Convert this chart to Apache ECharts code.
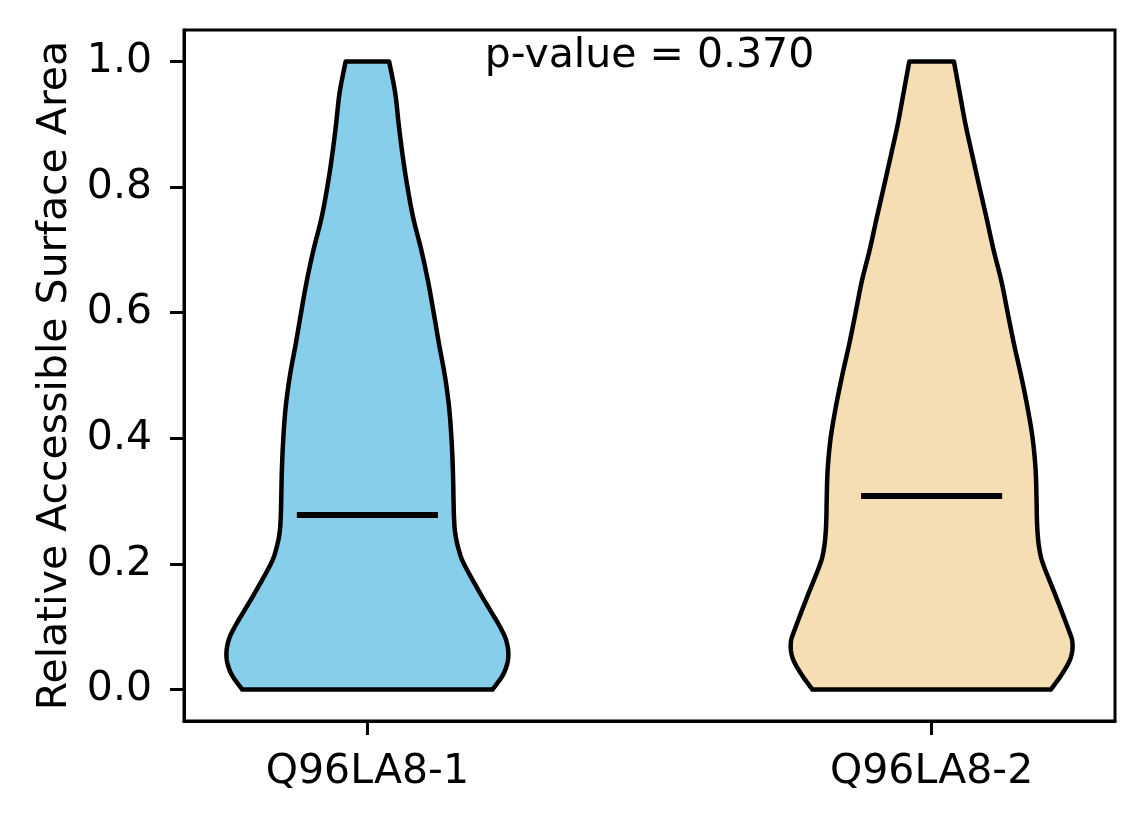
<!DOCTYPE html>
<html>
<head>
<meta charset="utf-8">
<script src="https://cdn.jsdelivr.net/npm/echarts@6/dist/echarts.min.js"></script>
<style>
  html, body { margin: 0; padding: 0; background: #fff; }
  #chart { width: 1144px; height: 824px; }
</style>
</head>
<body>
<div id="chart"></div>
<script>
// violin data
const categories = ['Q96LA8-1', 'Q96LA8-2'];
const positions = [1, 2];
const colors = ['#87CEEB', '#F5DEB3'];
const medians = [0.278, 0.308];
const pValueText = 'p-value = 0.370';
const yTicks = [0, 0.2, 0.4, 0.6, 0.8, 1.0];

// density profile (scaled so max = 1) at each level of the value axis
const levels = [0, 0.025, 0.05, 0.075, 0.1, 0.15, 0.2, 0.225, 0.25, 0.275, 0.3, 0.35, 0.4, 0.45,
  0.5, 0.55, 0.6, 0.65, 0.7, 0.75, 0.8, 0.85, 0.9, 0.95, 1.0];
const densityQ1 = [0.887, 0.965, 0.998, 0.988, 0.940, 0.808, 0.685, 0.645, 0.622, 0.614, 0.611, 0.606, 0.596, 0.579,
  0.549, 0.508, 0.470, 0.430, 0.382, 0.326, 0.284, 0.250, 0.222, 0.197, 0.154];
const densityQ2 = [0.845, 0.925, 0.985, 0.998, 0.963, 0.878, 0.790, 0.763, 0.751, 0.746, 0.744, 0.737, 0.716, 0.679,
  0.634, 0.584, 0.539, 0.495, 0.439, 0.390, 0.339, 0.289, 0.240, 0.199, 0.158];
const densities = [densityQ1, densityQ2];

const violinWidth = 0.5;
const font = 'DejaVu Sans';

const chart = echarts.init(document.getElementById('chart'));

// catmull-rom through pixel points so the outline is smooth
const smoothPts = (pts, steps) => {
  const out = [];
  for (let i = 0; i < pts.length - 1; i++) {
    const p0 = pts[Math.max(i - 1, 0)];
    const p1 = pts[i];
    const p2 = pts[i + 1];
    const p3 = pts[Math.min(i + 2, pts.length - 1)];
    for (let s = 0; s < steps; s++) {
      const t = s / steps, t2 = t * t, t3 = t2 * t;
      const f = (a, b, c, d) => 0.5 * (2 * b + (-a + c) * t + (2 * a - 5 * b + 4 * c - d) * t2 + (-a + 3 * b - 3 * c + d) * t3);
      out.push([f(p0[0], p1[0], p2[0], p3[0]), f(p0[1], p1[1], p2[1], p3[1])]);
    }
  }
  out.push(pts[pts.length - 1]);
  return out;
};

const renderViolin = (params, api) => {
  const idx = params.dataIndex;
  const pos = positions[idx];
  const dens = densities[idx];
  const half = violinWidth / 2;
  const right = smoothPts(levels.map((lv, k) => api.coord([pos + half * dens[k], lv])), 10);
  const left = smoothPts(levels.map((lv, k) => api.coord([pos - half * dens[k], lv])), 10).reverse();
  const m0 = api.coord([pos - half / 2, medians[idx]]);
  const m1 = api.coord([pos + half / 2, medians[idx]]);
  return {
    type: 'group',
    children: [
      {
        type: 'polygon',
        shape: { points: right.concat(left) },
        style: { fill: colors[idx], stroke: '#000', lineWidth: 4.5, lineJoin: 'round' }
      },
      {
        type: 'line',
        shape: { x1: m0[0], y1: m0[1], x2: m1[0], y2: m1[1] },
        style: { stroke: '#000', lineWidth: 6 }
      }
    ]
  };
};

chart.setOption({
  animation: false,
  textStyle: { fontFamily: font },
  grid: {
    left: 184, right: 29, top: 30, bottom: 103,
    show: true, borderColor: '#000', borderWidth: 3, backgroundColor: '#fff'
  },
  graphic: [{
    type: 'text',
    x: 649.5,
    y: 56,
    style: {
      text: pValueText,
      fill: '#000',
      font: '41px "DejaVu Sans"',
      align: 'center',
      verticalAlign: 'middle'
    }
  }],
  xAxis: {
    type: 'value',
    min: 0.675,
    max: 2.325,
    splitLine: { show: false },
    axisLine: { show: true, onZero: false, lineStyle: { color: '#000', width: 3 } },
    axisTick: { show: true, customValues: positions, length: 14, lineStyle: { color: '#000', width: 3 } },
    axisLabel: {
      customValues: positions,
      formatter: (v) => categories[positions.indexOf(v)] || '',
      color: '#000', fontSize: 41, fontFamily: font, margin: 31
    }
  },
  yAxis: {
    type: 'value',
    min: -0.05,
    max: 1.05,
    name: 'Relative Accessible Surface Area',
    nameLocation: 'middle',
    nameGap: 108,
    nameTextStyle: { color: '#000', fontSize: 41, fontFamily: font },
    splitLine: { show: false },
    axisLine: { show: true, onZero: false, lineStyle: { color: '#000', width: 3 } },
    axisTick: { show: true, customValues: yTicks, length: 14, lineStyle: { color: '#000', width: 3 } },
    axisLabel: {
      customValues: yTicks,
      formatter: (v) => v.toFixed(1),
      color: '#000', fontSize: 41, fontFamily: font, margin: 32
    }
  },
  series: [{
    type: 'custom',
    renderItem: renderViolin,
    encode: { x: 0, y: 1 },
    data: positions.map((p, i) => [p, medians[i]])
  }]
});
</script>
</body>
</html>
